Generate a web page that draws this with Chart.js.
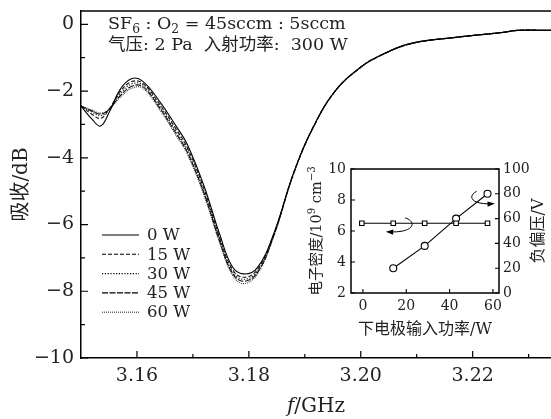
<!DOCTYPE html>
<html>
<head>
<meta charset="utf-8">
<script src="https://cdn.jsdelivr.net/npm/chart.js@4.4.0/dist/chart.umd.min.js"></script>
<style>
html,body{margin:0;padding:0;background:#fff;}
#wrap{position:relative;width:551px;height:419px;overflow:hidden;}
#main{position:absolute;left:0;top:0;}
#inset{position:absolute;left:300px;top:145px;}
</style>
</head>
<body>
<div id="wrap">
  <canvas id="main" width="551" height="419"></canvas>
  <canvas id="inset" width="251" height="205"></canvas>
</div>
<script>
// main chart data (absorption vs frequency)
const freq = [3.150,3.152,3.1535,3.155,3.157,3.159,3.161,3.164,3.167,3.169,3.172,3.1748,3.177,3.179,3.1815,3.1845,3.188,3.1915,3.1955,3.200,3.2035,3.209,3.217,3.2255,3.228,3.234];
const abs0W  = [-2.45,-2.85,-3.05,-2.65,-1.95,-1.63,-1.70,-2.30,-3.05,-3.60,-4.85,-6.30,-7.25,-7.48,-7.30,-6.25,-4.45,-3.08,-1.98,-1.28,-0.93,-0.57,-0.39,-0.24,-0.18,-0.18];
const abs15W = [-2.45,-2.70,-2.82,-2.55,-2.02,-1.72,-1.76,-2.38,-3.14,-3.69,-4.94,-6.40,-7.33,-7.58,-7.36,-6.27,-4.45,-3.08,-1.98,-1.28,-0.93,-0.57,-0.39,-0.24,-0.18,-0.18];
const abs30W = [-2.45,-2.63,-2.74,-2.55,-2.08,-1.79,-1.81,-2.44,-3.21,-3.76,-5.01,-6.46,-7.39,-7.64,-7.41,-6.29,-4.46,-3.08,-1.98,-1.28,-0.93,-0.57,-0.39,-0.24,-0.18,-0.18];
const abs45W = [-2.45,-2.60,-2.69,-2.55,-2.14,-1.86,-1.86,-2.49,-3.27,-3.83,-5.07,-6.51,-7.44,-7.70,-7.45,-6.31,-4.47,-3.09,-1.99,-1.29,-0.94,-0.58,-0.39,-0.24,-0.18,-0.18];
const abs60W = [-2.45,-2.57,-2.66,-2.55,-2.19,-1.92,-1.91,-2.54,-3.33,-3.89,-5.13,-6.56,-7.49,-7.77,-7.49,-6.33,-4.48,-3.09,-1.99,-1.29,-0.94,-0.58,-0.39,-0.24,-0.18,-0.18];
const seriesNames = ['0 W','15 W','30 W','45 W','60 W'];
const xTicks = [3.16,3.18,3.20,3.22];
const xMinor = [3.17,3.19,3.21,3.23];
const yTicks = [-10,-8,-6,-4,-2,0];
const yMinor = [-9,-7,-5,-3,-1];

// inset data
const powerX  = [-0.5,14,28.5,43,57.5];
const density = [6.5,6.5,6.5,6.5,6.5];
const biasX   = [14,28.5,43,57.5];
const bias    = [20,38,60,80];
const insetXTicks = [0,20,40,60];
const insetLTicks = [2,4,6,8,10];
const insetRTicks = [0,20,40,60,80,100];

const SERIF = '"DejaVu Serif", "Noto Sans CJK SC", serif';
const TXT = '#222';
const dashes = [[], [4,2], [1.2,1.6], [6,1.5], [1,1]];

function pts(xs, ys){ return xs.map((x,i)=>({x:x,y:ys[i]})); }
function minus(v){ return String(v).replace('-','\u2212'); }

// draw a run of text pieces with sub/superscripts
function drawRuns(ctx, runs, x, y, size){
  let cx = x;
  runs.forEach(r=>{
    let s = size, dy = 0;
    if(r.sub){ s = size*0.7; dy = size*0.22; }
    if(r.sup){ s = size*0.7; dy = -size*0.38; }
    ctx.font = (r.italic?'italic ':'') + s + 'px ' + SERIF;
    ctx.fillText(r.t, cx, y+dy);
    cx += ctx.measureText(r.t).width;
  });
  return cx - x;
}
function runsWidth(ctx, runs, size){
  let w = 0;
  runs.forEach(r=>{
    const s = (r.sub||r.sup) ? size*0.7 : size;
    ctx.font = (r.italic?'italic ':'') + s + 'px ' + SERIF;
    w += ctx.measureText(r.t).width;
  });
  return w;
}

const mainDeco = {
  id:'mainDeco',
  afterDraw(c){
    const {ctx, chartArea:a, scales:{x,y}} = c;
    ctx.save();
    ctx.strokeStyle='#000';
    ctx.lineWidth=1.5;
    ctx.beginPath(); ctx.moveTo(a.left,a.top); ctx.lineTo(a.right,a.top); ctx.stroke();
    ctx.lineWidth=1.2;
    ctx.beginPath();
    xTicks.forEach(v=>{ const p=x.getPixelForValue(v); ctx.moveTo(p,a.bottom); ctx.lineTo(p,a.bottom-7); });
    xMinor.forEach(v=>{ const p=x.getPixelForValue(v); ctx.moveTo(p,a.bottom); ctx.lineTo(p,a.bottom-4); });
    yTicks.forEach(v=>{ const p=y.getPixelForValue(v); ctx.moveTo(a.left,p); ctx.lineTo(a.left+7,p); });
    yMinor.forEach(v=>{ const p=y.getPixelForValue(v); ctx.moveTo(a.left,p); ctx.lineTo(a.left+4,p); });
    ctx.stroke();

    ctx.fillStyle=TXT;
    // y tick labels
    ctx.font='19px '+SERIF;
    ctx.textAlign='right';
    ctx.textBaseline='middle';
    yTicks.forEach(v=>{ ctx.fillText(minus(v), a.left-7, y.getPixelForValue(v)); });

    ctx.textBaseline='alphabetic';
    ctx.textAlign='left';
    // annotation text
    drawRuns(ctx,[{t:'SF'},{t:'6',sub:true},{t:' : O'},{t:'2',sub:true},{t:' = 45sccm : 5sccm'}],108,29,17.5);
    drawRuns(ctx,[{t:'气压: 2 Pa  入射功率:  300 W'}],108,50,17.5);

    // legend
    seriesNames.forEach((n,i)=>{
      const yy = 235 + i*19.3;
      ctx.setLineDash(dashes[i]);
      ctx.strokeStyle = i===4 ? '#333' : '#000';
      ctx.lineWidth = 1.1;
      ctx.beginPath(); ctx.moveTo(102,yy); ctx.lineTo(139,yy); ctx.stroke();
      ctx.setLineDash([]);
      ctx.font = '16.5px '+SERIF;
      ctx.textBaseline='middle';
      ctx.fillText(n,147,yy+1);
    });

    // axis titles
    ctx.textBaseline='alphabetic';
    const xr=[{t:'f',italic:true},{t:'/GHz'}];
    const w=runsWidth(ctx,xr,20);
    drawRuns(ctx,xr,(a.left+a.right)/2-w/2,412,20);
    ctx.save();
    ctx.translate(27,(a.top+a.bottom)/2);
    ctx.rotate(-Math.PI/2);
    ctx.font='20px '+SERIF;
    ctx.textAlign='center';
    ctx.fillText('吸收/dB',0,0);
    ctx.restore();
    ctx.restore();
  }
};

const mainColors = ['#000','#111','#111','#111','#333'];
const mainSeries = [abs0W,abs15W,abs30W,abs45W,abs60W];

new Chart(document.getElementById('main'),{
  type:'line',
  data:{
    datasets: mainSeries.map((s,i)=>({
      label:seriesNames[i],
      data:pts(freq,s),
      borderColor:mainColors[i],
      borderWidth:1.1,
      borderDash:dashes[i],
      pointRadius:0,
      tension:0.4,
      fill:false
    }))
  },
  options:{
    responsive:false, animation:false,
    layout:{padding:{top:11,right:0,left:0,bottom:0}},
    plugins:{legend:{display:false},tooltip:{enabled:false}},
    scales:{
      x:{
        type:'linear', min:3.15, max:3.234,
        grid:{display:false,drawTicks:false},
        border:{color:'#000',width:1.5},
        afterBuildTicks:s=>{ s.ticks = xTicks.map(v=>({value:v})); },
        afterFit:s=>{ s.height = 61; },
        ticks:{color:TXT,font:{family:SERIF,size:19},padding:7,maxRotation:0,autoSkip:false,callback:v=>v.toFixed(2)}
      },
      y:{
        min:-10, max:0.4,
        grid:{display:false,drawTicks:false},
        border:{color:'#000',width:1.5},
        afterBuildTicks:s=>{ s.ticks = yTicks.map(v=>({value:v})); },
        afterFit:s=>{ s.width = 81; },
        ticks:{display:false}
      }
    }
  },
  plugins:[mainDeco]
});

// inset
function curvedArrow(ctx, p0, c1, c2, p1){
  ctx.beginPath();
  ctx.moveTo(p0[0],p0[1]);
  ctx.bezierCurveTo(c1[0],c1[1],c2[0],c2[1],p1[0],p1[1]);
  ctx.stroke();
  const ang = Math.atan2(p1[1]-c2[1], p1[0]-c2[0]);
  ctx.beginPath();
  ctx.moveTo(p1[0]+Math.cos(ang)*2,p1[1]+Math.sin(ang)*2);
  ctx.lineTo(p1[0]-Math.cos(ang-0.45)*6,p1[1]-Math.sin(ang-0.45)*6);
  ctx.lineTo(p1[0]-Math.cos(ang+0.45)*6,p1[1]-Math.sin(ang+0.45)*6);
  ctx.closePath();
  ctx.fill();
}

const insetDeco = {
  id:'insetDeco',
  afterDraw(c){
    const {ctx, chartArea:a, scales:{x,yL,yR}} = c;
    ctx.save();
    ctx.strokeStyle='#000'; ctx.fillStyle='#000';
    ctx.lineWidth=1.5;
    ctx.strokeRect(a.left,a.top,a.right-a.left,a.bottom-a.top);
    ctx.lineWidth=1.1;
    ctx.beginPath();
    insetXTicks.forEach(v=>{ const p=x.getPixelForValue(v); ctx.moveTo(p,a.bottom); ctx.lineTo(p,a.bottom-4); });
    insetLTicks.forEach(v=>{ const p=yL.getPixelForValue(v); ctx.moveTo(a.left,p); ctx.lineTo(a.left+4,p); });
    insetRTicks.forEach(v=>{ const p=yR.getPixelForValue(v); ctx.moveTo(a.right,p); ctx.lineTo(a.right-4,p); });
    ctx.stroke();

    // arrows showing which axis each curve uses
    ctx.lineWidth=1;
    const px = v=>x.getPixelForValue(v);
    curvedArrow(ctx,[px(19.5),yL.getPixelForValue(6.85)],[px(25),yL.getPixelForValue(6.6)],[px(24),yL.getPixelForValue(5.85)],[px(11.5),yL.getPixelForValue(5.95)]);
    curvedArrow(ctx,[px(52.5),yR.getPixelForValue(82)],[px(48),yR.getPixelForValue(78)],[px(50),yR.getPixelForValue(71)],[px(60),yR.getPixelForValue(72)]);

    // tick labels
    ctx.fillStyle=TXT;
    ctx.font='14px '+SERIF;
    ctx.textBaseline='middle';
    ctx.textAlign='right';
    insetLTicks.forEach(v=>ctx.fillText(String(v),a.left-5,yL.getPixelForValue(v)));
    ctx.textAlign='left';
    insetRTicks.forEach(v=>ctx.fillText(String(v),a.right+4,yR.getPixelForValue(v)));
    ctx.textAlign='center';
    insetXTicks.forEach(v=>ctx.fillText(String(v),x.getPixelForValue(v),a.bottom+13));

    // titles
    ctx.textBaseline='alphabetic';
    const xt='下电极输入功率/W';
    ctx.font='16px '+SERIF;
    ctx.textAlign='center';
    ctx.fillText(xt,(a.left+a.right)/2,189);
    ctx.textAlign='left';
    const lr=[{t:'电子密度/10'},{t:'9',sup:true},{t:' cm'},{t:'\u22123',sup:true}];
    const lw=runsWidth(ctx,lr,14.5);
    ctx.save();
    ctx.translate(21,(a.top+a.bottom)/2);
    ctx.rotate(-Math.PI/2);
    drawRuns(ctx,lr,-lw/2,0,14.5);
    ctx.restore();
    const rr=[{t:'负偏压/V'}];
    const rw=runsWidth(ctx,rr,16);
    ctx.save();
    ctx.translate(243,(a.top+a.bottom)/2);
    ctx.rotate(-Math.PI/2);
    drawRuns(ctx,rr,-rw/2,0,16);
    ctx.restore();
    ctx.restore();
  }
};

new Chart(document.getElementById('inset'),{
  type:'scatter',
  data:{
    datasets:[
      {data:pts(powerX,density),yAxisID:'yL',showLine:true,borderColor:'#000',borderWidth:1.1,
       pointStyle:'rect',pointRadius:3.2,pointBackgroundColor:'#fff',pointBorderColor:'#000',pointBorderWidth:1.1},
      {data:pts(biasX,bias),yAxisID:'yR',showLine:true,borderColor:'#000',borderWidth:1.1,
       pointStyle:'circle',pointRadius:3.5,pointBackgroundColor:'#fff',pointBorderColor:'#000',pointBorderWidth:1.1}
    ]
  },
  options:{
    responsive:false, animation:false,
    layout:{padding:{top:24,right:0,left:0,bottom:0}},
    plugins:{legend:{display:false},tooltip:{enabled:false}},
    scales:{
      x:{
        type:'linear', min:-5.5, max:62.8,
        grid:{display:false,drawTicks:false}, border:{display:false},
        afterBuildTicks:s=>{ s.ticks = insetXTicks.map(v=>({value:v})); },
        afterFit:s=>{ s.height = 57; },
        ticks:{display:false}
      },
      yL:{
        position:'left', min:2, max:10,
        grid:{display:false,drawTicks:false}, border:{display:false},
        afterBuildTicks:s=>{ s.ticks = insetLTicks.map(v=>({value:v})); },
        afterFit:s=>{ s.width = 51; },
        ticks:{display:false}
      },
      yR:{
        position:'right', min:0, max:100,
        grid:{display:false,drawTicks:false}, border:{display:false},
        afterBuildTicks:s=>{ s.ticks = insetRTicks.map(v=>({value:v})); },
        afterFit:s=>{ s.width = 52; },
        ticks:{display:false}
      }
    }
  },
  plugins:[insetDeco]
});
</script>
</body>
</html>
